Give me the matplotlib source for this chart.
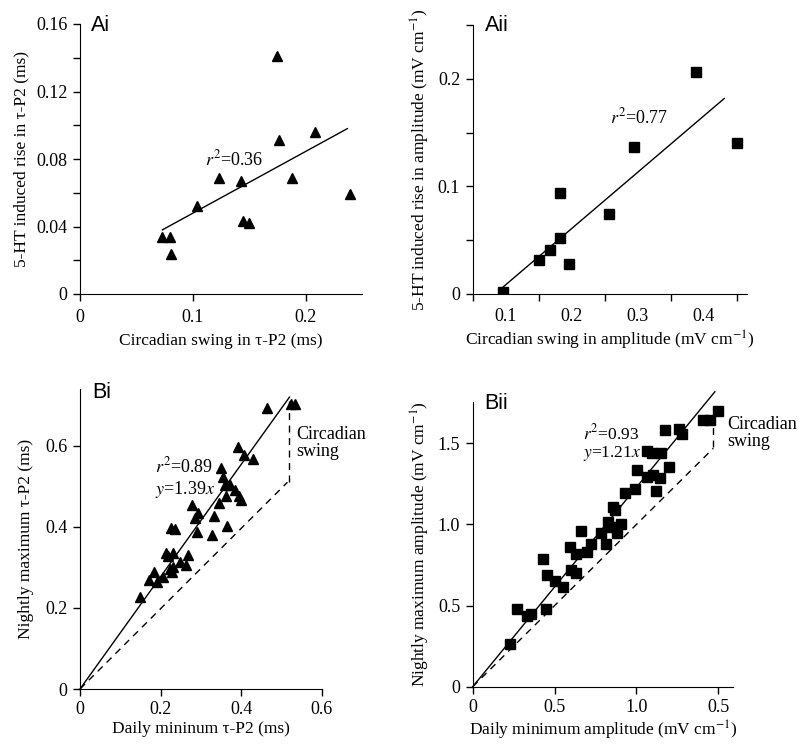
import matplotlib.pyplot as plt
import numpy as np

plt.rcParams['font.family'] = ['Liberation Serif', 'DejaVu Serif']
plt.rcParams['font.size'] = 12.5
plt.rcParams['mathtext.fontset'] = 'stix'

# Ai: circadian swing vs 5-HT rise, tau-P2
ai_x = [0.073, 0.080, 0.081, 0.104, 0.123, 0.143, 0.1445, 0.150, 0.1745, 0.1766, 0.1875, 0.208, 0.239]
ai_y = [0.034, 0.034, 0.024, 0.052, 0.069, 0.067, 0.043, 0.042, 0.141, 0.091, 0.069, 0.096, 0.059]
ai_fit_x = [0.073, 0.237]
ai_fit_y = [0.038, 0.098]

# Aii: amplitude
aii_x = [0.0965, 0.151, 0.1666, 0.182, 0.1827, 0.1953, 0.2563, 0.294, 0.388, 0.451]
aii_y = [0.0015, 0.032, 0.041, 0.0935, 0.052, 0.028, 0.074, 0.137, 0.206, 0.140]
aii_fit_x = [0.0924, 0.431]
aii_fit_y = [0.0046, 0.1817]

# Bi: daily minimum vs nightly maximum tau-P2
bi_x = [0.149, 0.171, 0.184, 0.190, 0.207, 0.213, 0.218, 0.224, 0.228, 0.232,
        0.225, 0.236, 0.232, 0.248, 0.263, 0.269, 0.279, 0.286, 0.292, 0.290,
        0.328, 0.333, 0.344, 0.351, 0.355, 0.360, 0.362, 0.364, 0.373, 0.385,
        0.395, 0.399, 0.393, 0.406, 0.429, 0.464, 0.525, 0.534]
bi_y = [0.228, 0.269, 0.288, 0.263, 0.277, 0.335, 0.327, 0.295, 0.288, 0.302,
        0.396, 0.394, 0.335, 0.314, 0.306, 0.331, 0.454, 0.421, 0.434, 0.388,
        0.380, 0.427, 0.458, 0.545, 0.524, 0.504, 0.475, 0.401, 0.504, 0.491,
        0.475, 0.467, 0.597, 0.578, 0.567, 0.693, 0.703, 0.703]
bi_fit_x = [0.0, 0.52]
bi_fit_y = [0.0, 0.72]
bi_unity_x = [0.0, 0.515]
bi_unity_y = [0.0, 0.51]
bi_swing_x = [0.52, 0.52]
bi_swing_y = [0.51, 0.71]

# Bii: daily minimum vs nightly maximum amplitude
bii_x = [0.228, 0.273, 0.330, 0.356, 0.427, 0.446, 0.452, 0.503, 0.553, 0.594,
         0.602, 0.631, 0.629, 0.663, 0.696, 0.722, 0.783, 0.814, 0.828, 0.842,
         0.855, 0.869, 0.879, 0.903, 0.930, 0.991, 1.005, 1.062, 1.062, 1.093,
         1.103, 1.119, 1.144, 1.150, 1.174, 1.200, 1.262, 1.278, 1.408, 1.449, 1.496]
bii_y = [0.263, 0.477, 0.436, 0.448, 0.785, 0.479, 0.688, 0.653, 0.612, 0.863,
         0.719, 0.703, 0.818, 0.962, 0.832, 0.877, 0.945, 0.877, 1.017, 0.986,
         1.109, 1.089, 0.945, 1.003, 1.192, 1.216, 1.336, 1.453, 1.294, 1.442,
         1.305, 1.208, 1.284, 1.442, 1.582, 1.352, 1.586, 1.555, 1.644, 1.644, 1.699]
bii_fit_x = [0.0, 1.479]
bii_fit_y = [0.0, 1.818]
bii_unity_x = [0.0, 1.47]
bii_unity_y = [0.0, 1.47]
bii_swing_x = [1.47, 1.47]
bii_swing_y = [1.48, 1.64]

W, H = 800, 748
fig = plt.figure(figsize=(W / 100, H / 100), dpi=100)


def make_ax(l, r, b, t):
    ax = fig.add_axes([l / W, 1 - b / H, (r - l) / W, (b - t) / H])
    ax.spines['top'].set_visible(False)
    ax.spines['right'].set_visible(False)
    ax.tick_params(direction='out', length=5, width=1, labelsize=13, pad=4)
    return ax


def panel_label(ax, s, fx, fy):
    ax.text(fx, fy, s, transform=ax.transAxes, family='Liberation Sans',
            fontsize=15.5, va='baseline', ha='left')


# ---- Ai
ax = make_ax(80, 362, 294, 24)
ax.plot(ai_x, ai_y, '^', color='black', ms=7.5)
ax.plot(ai_fit_x, ai_fit_y, '-', color='black', lw=1)
ax.set_xlim(0, 0.25)
ax.set_ylim(0, 0.16)
ax.set_xticks([0, 0.1, 0.2])
ax.set_xticklabels(['0', '0.1', '0.2'])
ax.tick_params(axis='x', pad=6)
ax.set_yticks(np.arange(0, 0.161, 0.02))
ax.set_yticklabels(['0', '', '0.04', '', '0.08', '', '0.12', '', '0.16'])
ax.text(0.111, 0.080, r'$r^2$=0.36', fontsize=13, va='center')
ax.set_xlabel('Circadian swing in τ-P2 (ms)', labelpad=5)
ax.set_ylabel('5-HT induced rise in τ-P2 (ms)', labelpad=5)
panel_label(ax, 'Ai', 0.04, 0.974)

# ---- Aii
ax = make_ax(472.7, 746.7, 294, 25)
ax.plot(aii_x, aii_y, 's', color='black', ms=6.5)
ax.plot(aii_fit_x, aii_fit_y, '-', color='black', lw=1)
ax.set_xlim(0.05, 0.465)
ax.set_ylim(0, 0.25)
ax.set_xticks([0.05, 0.15, 0.25, 0.35, 0.45])
ax.set_xticklabels([])
ax.set_xticks([0.1, 0.2, 0.3, 0.4], minor=True)
ax.set_xticklabels(['0.1', '0.2', '0.3', '0.4'], minor=True)
ax.tick_params(axis='x', which='minor', length=0, pad=10, labelsize=13)
ax.set_yticks([0, 0.05, 0.1, 0.15, 0.2, 0.25])
ax.set_yticklabels(['0', '', '0.1', '', '0.2', ''])
ax.text(0.258, 0.164, r'$r^2$=0.77', fontsize=13, va='center')
ax.set_xlabel('Circadian swing in amplitude (mV cm$^{-1}$)', labelpad=3)
ax.set_ylabel('5-HT induced rise in amplitude (mV cm$^{-1}$)', labelpad=4)
panel_label(ax, 'Aii', 0.045, 0.978)

# ---- Bi
ax = make_ax(80, 321.7, 689, 389)
ax.plot(bi_x, bi_y, '^', color='black', ms=7.5)
ax.plot(bi_fit_x, bi_fit_y, '-', color='black', lw=1, clip_on=False)
ax.plot(bi_unity_x, bi_unity_y, '--', color='black', lw=1, dashes=(5, 4))
ax.plot(bi_swing_x, bi_swing_y, '--', color='black', lw=1, dashes=(5, 4), clip_on=False)
ax.set_xlim(0, 0.6)
ax.set_ylim(0, 0.74)
ax.set_xticks([0, 0.2, 0.4, 0.6])
ax.set_xticklabels(['0', '0.2', '0.4', '0.6'])
ax.tick_params(axis='x', pad=4)
ax.set_yticks([0, 0.2, 0.4, 0.6])
ax.set_yticklabels(['0', '0.2', '0.4', '0.6'])
ax.text(0.185, 0.52, '$r^2$=0.89\n$y$=1.39$x$', fontsize=13, va='center', linespacing=1.15)
ax.text(0.537, 0.607, 'Circadian\nswing', fontsize=13, va='center', linespacing=1.05)
ax.set_xlabel('Daily mininum τ-P2 (ms)', labelpad=2)
ax.set_ylabel('Nightly maximum τ-P2 (ms)', labelpad=8)
panel_label(ax, 'Bi', 0.05, 0.97)

# ---- Bii
ax = make_ax(472.7, 733, 686.7, 401.7)
ax.plot(bii_x, bii_y, 's', color='black', ms=6.5)
ax.plot(bii_fit_x, bii_fit_y, '-', color='black', lw=1, clip_on=False)
ax.plot(bii_unity_x, bii_unity_y, '--', color='black', lw=1, dashes=(5, 4))
ax.plot(bii_swing_x, bii_swing_y, '--', color='black', lw=1, dashes=(5, 4), clip_on=False)
ax.set_xlim(0, 1.59)
ax.set_ylim(0, 1.757)
ax.set_xticks([0, 0.5, 1.0, 1.5])
ax.set_xticklabels(['0', '0.5', '1.0', '0.5'])
ax.tick_params(axis='x', pad=4)
ax.set_yticks([0, 0.5, 1.0, 1.5])
ax.set_yticklabels(['0', '0.5', '1.0', '1.5'])
ax.text(0.672, 1.50, '$r^2$=0.93\n$y$=1.21$x$', fontsize=12.5, va='center', linespacing=1.0)
ax.text(1.555, 1.565, 'Circadian\nswing', fontsize=13, va='center', linespacing=1.05)
ax.set_xlabel('Daily minimum amplitude (mV cm$^{-1}$)', labelpad=2)
ax.set_ylabel('Nightly maximum amplitude (mV cm$^{-1}$)', labelpad=4)
panel_label(ax, 'Bii', 0.043, 0.974)

fig.savefig('out.png', dpi=100)
